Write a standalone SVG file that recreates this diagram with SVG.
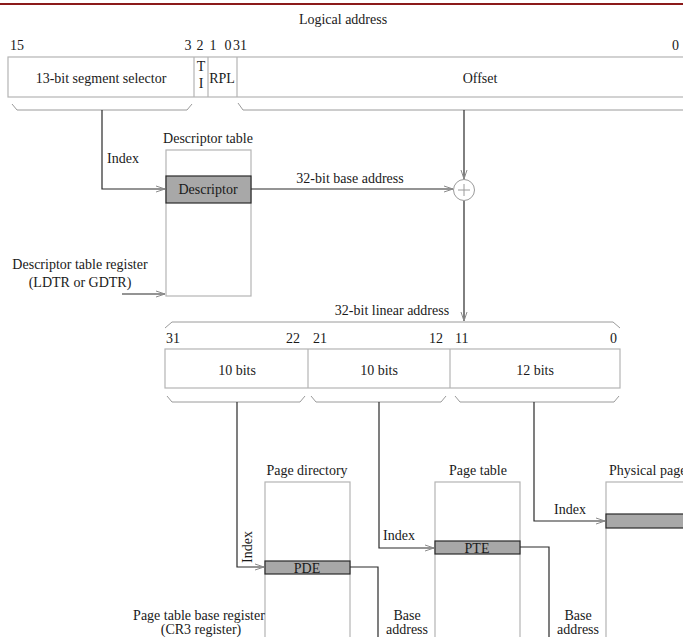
<svg xmlns="http://www.w3.org/2000/svg" width="683" height="637" viewBox="0 0 683 637">
<style>
text{font-family:"Liberation Serif","Times New Roman",serif;font-size:14px;fill:#1a1a1a}
.m{text-anchor:middle}
.e{text-anchor:end}
.box{fill:#fff;stroke:#b4b4b4;stroke-width:1.2}
.br{fill:none;stroke:#9a9a9a;stroke-width:1}
.row{fill:#a8a8a8;stroke:#2a2a2a;stroke-width:1.2}
.c{fill:none;stroke:#2a2a2a;stroke-width:1.2}
</style>
<defs>
<marker id="ah" markerWidth="10" markerHeight="8" refX="9" refY="4" orient="auto" markerUnits="userSpaceOnUse">
<path d="M0,1 L9,4 L0,7" fill="none" stroke="#8a8a8a" stroke-width="1"/>
</marker>
</defs>
<rect width="683" height="637" fill="#fff"/>
<line x1="0" y1="4" x2="683" y2="4" stroke="#8b1a1a" stroke-width="2"/>

<g id="logical-address">
<text x="343" y="24" class="m">Logical address</text>
<text x="10" y="50">15</text>
<text x="188" y="50" class="m">3</text>
<text x="200" y="50" class="m">2</text>
<text x="213" y="50" class="m">1</text>
<text x="228" y="50" class="m">0</text>
<text x="233" y="50">31</text>
<text x="679" y="50" class="e">0</text>
<rect x="8" y="57" width="690" height="40" class="box"/>
<line x1="194" y1="57" x2="194" y2="97" class="box"/>
<line x1="208" y1="57" x2="208" y2="97" class="box"/>
<line x1="237" y1="57" x2="237" y2="97" class="box"/>
<text x="101" y="83" class="m">13-bit segment selector</text>
<text x="201" y="71" class="m">T</text>
<text x="201" y="88" class="m">I</text>
<text x="222" y="83" class="m">RPL</text>
<text x="480" y="83" class="m">Offset</text>
<path d="M12,104 L17,110 L187,110 L192,104" class="br"/>
<path d="M238,103 L243,110 L690,110" class="br"/>
</g>

<g id="descriptor-table">
<text x="208" y="143" class="m">Descriptor table</text>
<rect x="166" y="150" width="85" height="146" class="box"/>
<rect x="166" y="176" width="85" height="27" class="row"/>
<text x="208" y="194" class="m">Descriptor</text>
</g>

<g id="dtr-label">
<text x="80" y="269" class="m">Descriptor table register</text>
<text x="80" y="287" class="m">(LDTR or GDTR)</text>
</g>

<g id="adder">
<circle cx="464" cy="190" r="10.5" fill="#fff" stroke="#9a9a9a" stroke-width="1"/>
<path d="M458,190 H470 M464,184 V196" stroke="#9a9a9a" stroke-width="1"/>
</g>

<g id="linear-address">
<text x="392" y="315" class="m">32-bit linear address</text>
<path d="M165,328 L172,322 L613,322 L620,328" class="br"/>
<text x="166" y="343">31</text>
<text x="300" y="343" class="e">22</text>
<text x="313" y="343">21</text>
<text x="443" y="343" class="e">12</text>
<text x="455" y="343">11</text>
<text x="617" y="343" class="e">0</text>
<rect x="165" y="349" width="455" height="39" class="box"/>
<line x1="308" y1="349" x2="308" y2="388" class="box"/>
<line x1="450" y1="349" x2="450" y2="388" class="box"/>
<text x="237" y="375" class="m">10 bits</text>
<text x="379" y="375" class="m">10 bits</text>
<text x="535" y="375" class="m">12 bits</text>
<path d="M167,396 L172,402 L300,402 L305,396" class="br"/>
<path d="M311,396 L316,402 L441,402 L446,396" class="br"/>
<path d="M455,396 L460,402 L614,402 L619,396" class="br"/>
</g>

<g id="page-directory">
<text x="307" y="475" class="m">Page directory</text>
<rect x="265" y="482" width="85" height="170" class="box"/>
<rect x="265" y="561" width="85" height="13" class="row"/>
<text x="307" y="573" class="m">PDE</text>
</g>

<g id="page-table">
<text x="478" y="475" class="m">Page table</text>
<rect x="435" y="482" width="85" height="170" class="box"/>
<rect x="435" y="541" width="85" height="13" class="row"/>
<text x="477" y="553" class="m">PTE</text>
</g>

<g id="physical-page">
<text x="609" y="475">Physical page</text>
<rect x="606" y="482" width="100" height="170" class="box"/>
<rect x="606" y="514" width="100" height="14" class="row"/>
</g>

<g id="cr3-label">
<text x="199" y="620" class="m">Page table base register</text>
<text x="201" y="634" class="m">(CR3 register)</text>
</g>

<g id="connectors">
<polyline points="102,110 102,189 165,189" class="c" marker-end="url(#ah)"/>
<text x="107" y="163">Index</text>
<line x1="251" y1="189" x2="453" y2="189" class="c" marker-end="url(#ah)"/>
<text x="350" y="183" class="m">32-bit base address</text>
<line x1="464" y1="110" x2="464" y2="179" class="c" marker-end="url(#ah)"/>
<line x1="122" y1="294" x2="165" y2="294" class="c" marker-end="url(#ah)"/>
<line x1="464" y1="201" x2="464" y2="321" class="c" marker-end="url(#ah)"/>
<polyline points="237,402 237,567 264,567" class="c" marker-end="url(#ah)"/>
<text transform="translate(252,547) rotate(-90)" class="m">Index</text>
<polyline points="379,402 379,548 434,548" class="c" marker-end="url(#ah)"/>
<text x="383" y="540">Index</text>
<polyline points="534,402 534,521 605,521" class="c" marker-end="url(#ah)"/>
<text x="554" y="514">Index</text>
<polyline points="350,567 378,567 378,640" class="c"/>
<text x="407" y="620" class="m">Base</text>
<text x="407" y="634" class="m">address</text>
<polyline points="520,547 549,547 549,640" class="c"/>
<text x="578" y="620" class="m">Base</text>
<text x="578" y="634" class="m">address</text>
</g>
</svg>
